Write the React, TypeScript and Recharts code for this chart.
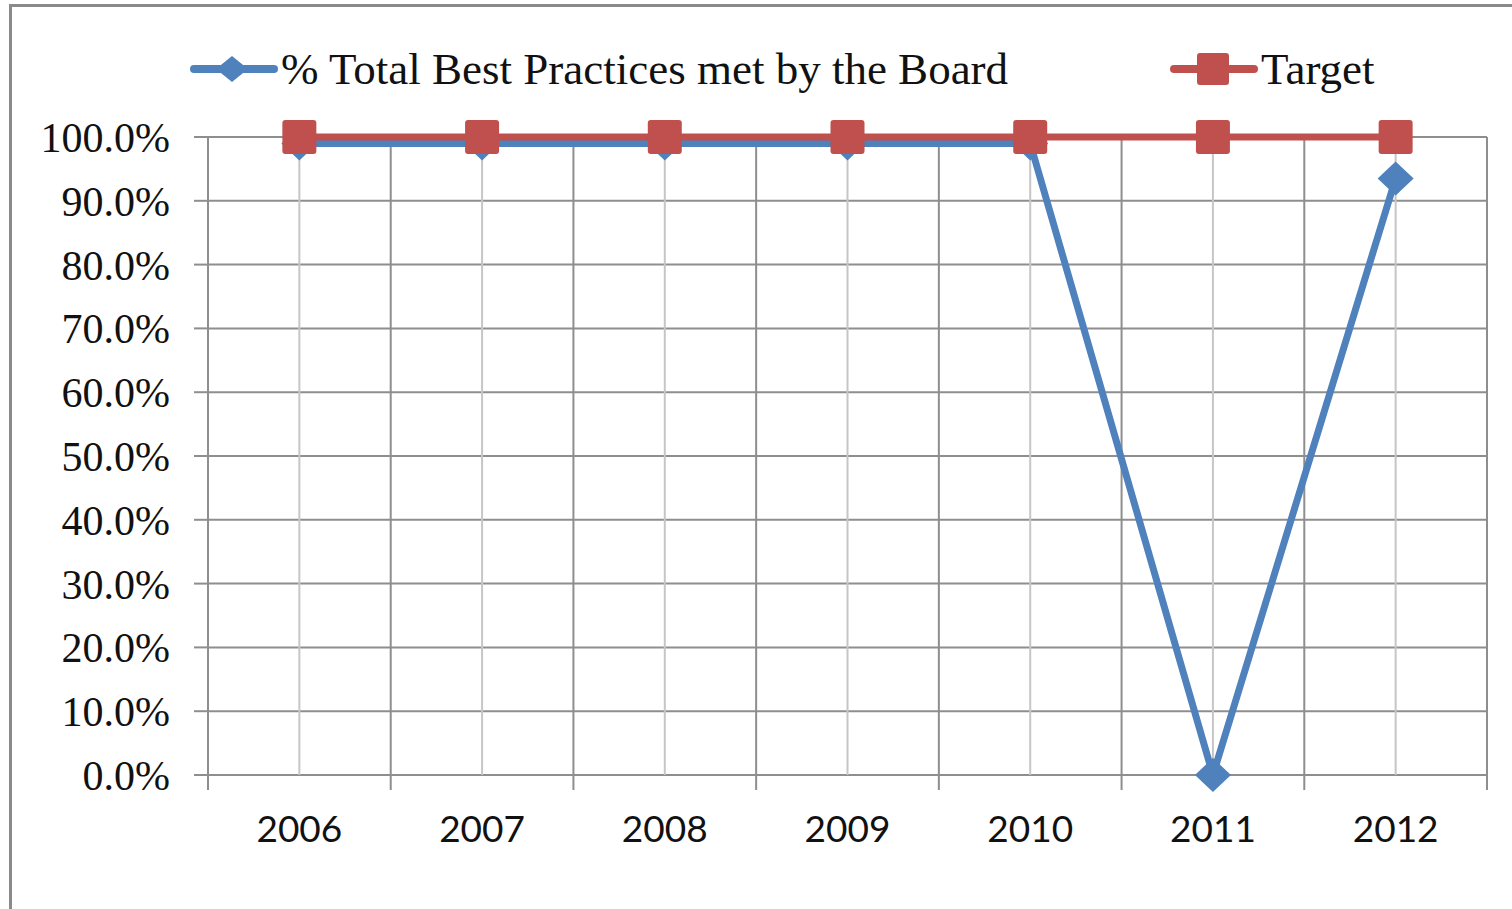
import { LineChart, Line, XAxis, YAxis, CartesianGrid, ReferenceLine } from "recharts";

const years = ["2006", "2007", "2008", "2009", "2010", "2011", "2012"];
const bestPractices = [0.99, 0.99, 0.99, 0.99, 0.99, 0, 0.935];
const target = [1, 1, 1, 1, 1, 1, 1];
const yTicks = [0, 0.1, 0.2, 0.3, 0.4, 0.5, 0.6, 0.7, 0.8, 0.9, 1];
const boundaries = [0, 1, 2, 3, 4, 5, 6, 7];
const centers = years.map((_, i) => i + 0.5);

const BLUE = "#4F81BD";
const RED = "#C0504D";
const GRID = "#8e8e8e";
const GRID_LIGHT = "#c6c6c6";

const data = years.map((year, i) => ({
  x: centers[i],
  year,
  best: bestPractices[i],
  target: target[i],
}));

const xTicks = [...boundaries, ...centers].sort((a, b) => a - b);

function XTick(props: any) {
  const { x, y, payload } = props;
  const v = payload.value;
  if (Number.isInteger(v)) {
    return <line x1={x} x2={x} y1={y - 15} y2={y} stroke={GRID} strokeWidth={2} />;
  }
  return (
    <text
      x={x}
      y={y + 52}
      textAnchor="middle"
      fontFamily="Lato, 'Open Sans', sans-serif"
      fontSize={37}
      fill="#111"
    >
      {years[Math.floor(v)]}
    </text>
  );
}

function Diamond({ cx, cy, w = 18, h = 17 }: any) {
  if (cx == null || cy == null) return null;
  return <path d={`M${cx},${cy - h}L${cx + w},${cy}L${cx},${cy + h}L${cx - w},${cy}Z`} fill={BLUE} />;
}

function Square({ cx, cy, s = 17 }: any) {
  if (cx == null || cy == null) return null;
  return <rect x={cx - s} y={cy - s} width={s * 2} height={s * 2} rx={3} fill={RED} />;
}

const legendItems = [
  { name: "% Total Best Practices met by the Board", color: BLUE, marker: "diamond" },
  { name: "Target", color: RED, marker: "square" },
];

function LegendRow() {
  return (
    <div
      style={{
        position: "absolute",
        left: 190,
        top: 42,
        display: "flex",
        gap: 162,
        alignItems: "center",
        fontFamily: "'Liberation Serif', serif",
        fontSize: 45,
        color: "#111",
        whiteSpace: "nowrap",
      }}
    >
      {legendItems.map((it) => (
        <div key={it.name} style={{ display: "flex", alignItems: "center" }}>
          <svg width={88} height={40} style={{ marginRight: 3 }}>
            <line x1={4} x2={84} y1={20} y2={20} stroke={it.color} strokeWidth={8} strokeLinecap="round" />
            {it.marker === "diamond" ? (
              <path d="M42,7L58,20L42,33L26,20Z" fill={it.color} />
            ) : (
              <rect x={27} y={4} width={32} height={32} rx={3} fill={it.color} />
            )}
          </svg>
          <span style={{ lineHeight: "54px" }}>{it.name}</span>
        </div>
      ))}
    </div>
  );
}

export default function App() {
  return (
    <div style={{ position: "fixed", left: 0, top: 0, width: 1512, height: 909, overflow: "hidden", background: "#fff" }}>
      <div
        style={{
          position: "absolute",
          left: 9,
          top: 4,
          width: 1600,
          height: 1000,
          border: "3px solid #8a8a8a",
        }}
      />
      <div style={{ position: "absolute", left: 0, top: 0 }}>
        <LineChart width={1512} height={909} data={data} margin={{ top: 137, right: 25, bottom: 74, left: 0 }}>
          <CartesianGrid vertical={false} stroke={GRID} strokeWidth={2} />
          {centers.map((c) => (
            <ReferenceLine key={"c" + c} x={c} stroke={GRID_LIGHT} strokeWidth={2} />
          ))}
          {boundaries.map((b) => (
            <ReferenceLine key={"b" + b} x={b} stroke={GRID} strokeWidth={2} />
          ))}
          <XAxis
            dataKey="x"
            type="number"
            domain={[0, 7]}
            ticks={xTicks}
            interval={0}
            axisLine={false}
            tickLine={false}
            tickSize={15}
            tickMargin={0}
            height={60}
            tick={<XTick />}
          />
          <YAxis
            domain={[0, 1]}
            ticks={yTicks}
            interval={0}
            width={208}
            axisLine={false}
            tickLine={{ stroke: GRID, strokeWidth: 2 }}
            tickSize={14}
            tickMargin={24}
            tickFormatter={(v: number) => (v * 100).toFixed(1) + "%"}
            tick={{ fontFamily: "'Liberation Serif', serif", fontSize: 42, fill: "#111" }}
          />
          <Line
            dataKey="best"
            stroke={BLUE}
            strokeWidth={7}
            dot={<Diamond />}
            activeDot={false}
            isAnimationActive={false}
          />
          <Line
            dataKey="target"
            stroke={RED}
            strokeWidth={7}
            dot={<Square />}
            activeDot={false}
            isAnimationActive={false}
          />
        </LineChart>
      </div>
      <LegendRow />
    </div>
  );
}
